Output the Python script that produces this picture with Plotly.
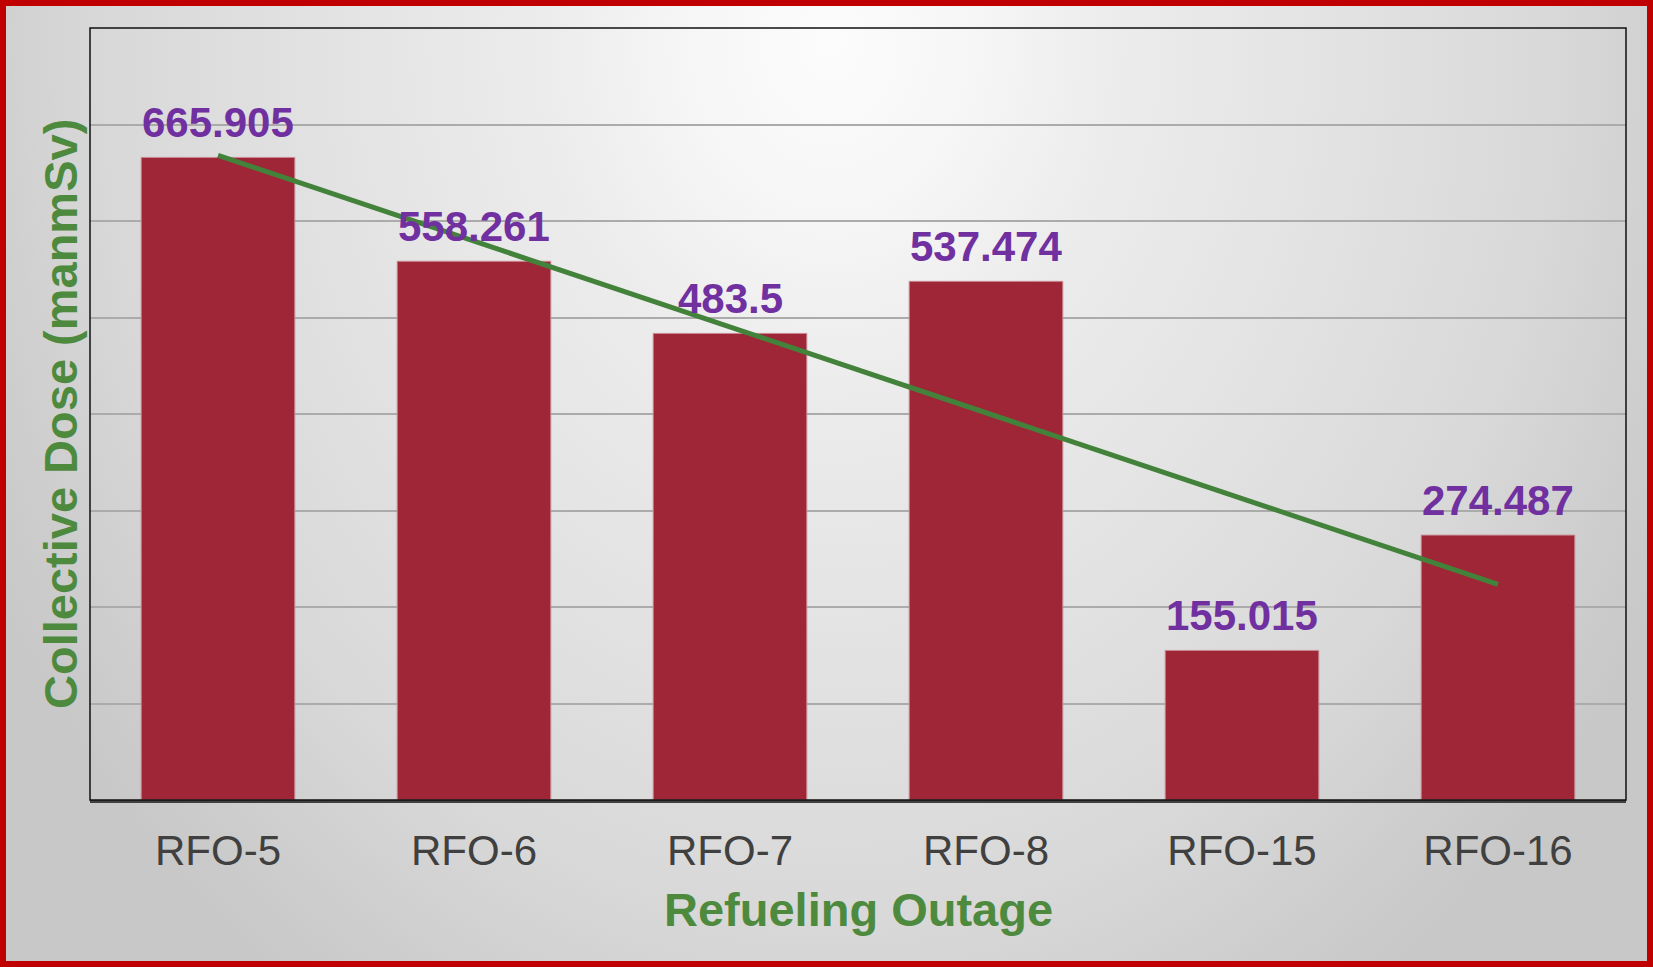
import base64
import plotly.graph_objects as go

# ---- data ----
categories = ["RFO-5", "RFO-6", "RFO-7", "RFO-8", "RFO-15", "RFO-16"]
dose_values = [665.905, 558.261, 483.5, 537.474, 155.015, 274.487]
value_labels = ["665.905", "558.261", "483.5", "537.474", "155.015", "274.487"]
trend_categories = ["RFO-5", "RFO-16"]
trend_values = [668.1, 223.4]  # linear trendline endpoints

x_title = "Refueling Outage"
y_title = "Collective Dose (manmSv)"

# ---- geometry ----
W, H = 1653, 967
L, R, T, B = 90, 1626, 28, 800
pw, ph = R - L, B - T


def px_x(px):
    return (px - L) / pw


def px_y(py):
    return (B - py) / ph


FONT = "Liberation Sans, Arial, sans-serif"
GREEN_T = "#4E8A3E"

# background radial gradient as svg image
svg = f'''<svg xmlns="http://www.w3.org/2000/svg" width="{W}" height="{H}" viewBox="0 0 {W} {H}">
<defs><radialGradient id="g" gradientUnits="userSpaceOnUse" cx="0" cy="0" r="1"
 gradientTransform="translate(830,40) scale(950,1150)">
<stop offset="0" stop-color="#FCFCFC"/>
<stop offset="0.15" stop-color="#F6F6F6"/>
<stop offset="0.3" stop-color="#ECECEC"/>
<stop offset="0.5" stop-color="#E4E4E4"/>
<stop offset="0.77" stop-color="#D8D8D8"/>
<stop offset="0.92" stop-color="#CDCDCD"/>
<stop offset="1" stop-color="#C8C8C8"/>
</radialGradient></defs>
<rect x="0" y="0" width="{W}" height="{H}" fill="url(#g)"/>
</svg>'''
svg_uri = "data:image/svg+xml;base64," + base64.b64encode(svg.encode()).decode()

fig = go.Figure()
fig.add_trace(go.Bar(
    x=categories, y=dose_values,
    marker=dict(color="#9E2637", line=dict(color="#C98A93", width=1)),
    hoverinfo="skip",
))
fig.add_trace(go.Scatter(
    x=trend_categories, y=trend_values, mode="lines",
    line=dict(color="#43823A", width=5), hoverinfo="skip",
))

annotations = []
for c, v, t in zip(categories, dose_values, value_labels):
    annotations.append(dict(
        x=c, y=v, xref="x", yref="y", text=t, showarrow=False,
        yanchor="bottom", xanchor="center", yshift=9,
        font=dict(family=FONT, size=42, color="#7030A0", weight=700),
    ))
annotations.append(dict(
    x=0.5, y=px_y(909), xref="paper", yref="paper", text=x_title,
    showarrow=False, xanchor="center", yanchor="middle",
    font=dict(family=FONT, size=47, color=GREEN_T, weight=700),
))
annotations.append(dict(
    x=px_x(60), y=0.5, xref="paper", yref="paper", text=y_title,
    showarrow=False, xanchor="center", yanchor="middle", textangle=-90,
    font=dict(family=FONT, size=47, color=GREEN_T, weight=700),
))

shapes = [
    # plot area border
    dict(type="rect", xref="paper", yref="paper", x0=0, x1=1, y0=0, y1=1,
         line=dict(color="#111111", width=1.5), layer="above"),
    # outer red frame
    dict(type="rect", xref="paper", yref="paper",
         x0=px_x(3), x1=px_x(W - 3), y0=px_y(H - 3), y1=px_y(3),
         line=dict(color="#C00000", width=6), layer="above"),
]

fig.update_layout(
    width=W, height=H,
    margin=dict(l=L, r=W - R, t=T, b=H - B),
    paper_bgcolor="#DDDDDD",
    plot_bgcolor="rgba(0,0,0,0)",
    showlegend=False,
    bargap=0.4,
    font=dict(family=FONT),
    annotations=annotations,
    shapes=shapes,
    images=[dict(source=svg_uri, xref="paper", yref="paper",
                 x=px_x(0), y=px_y(0), sizex=W / pw, sizey=H / ph,
                 xanchor="left", yanchor="top", sizing="stretch",
                 layer="below")],
    xaxis=dict(
        showline=True, linecolor="#404040", linewidth=3, mirror=False,
        showgrid=False, ticks="", ticklabelstandoff=12,
        tickfont=dict(family=FONT, size=42, color="#404040"),
    ),
    yaxis=dict(
        range=[0, 800], dtick=100, showgrid=True, gridcolor="#ABABAB",
        gridwidth=1.5, showticklabels=False, zeroline=False, showline=False,
    ),
)

fig.write_html(
    "out.html",
    config={"displayModeBar": False},
    post_script="document.body.style.margin='0';document.body.style.overflow='hidden';",
)
